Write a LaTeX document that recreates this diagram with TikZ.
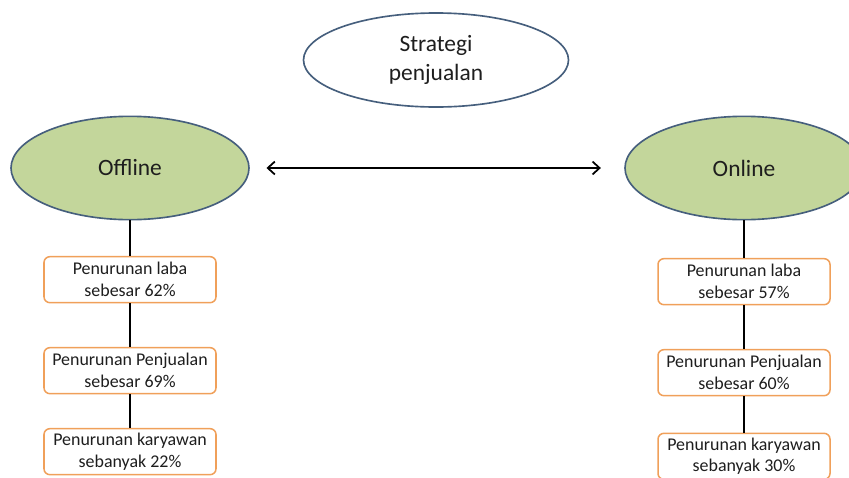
\documentclass[tikz,border=0pt]{standalone}
\usepackage{fontspec}
\setmainfont{Carlito}
\usepackage{xcolor}
\usepackage{tikz}
\usetikzlibrary{positioning,shapes.geometric,arrows.meta}
\definecolor{c_leaf}{RGB}{195,214,155}
\definecolor{c_rim}{RGB}{70,95,125}
\definecolor{c_orange}{RGB}{240,160,90}
\definecolor{c_ink}{RGB}{30,30,30}
\tikzset{c-ellipse/.style={ellipse, draw=c_rim, line width=1.4pt, minimum width=7.14cm, minimum height=3.1cm, text centered, text=c_ink, font=\fontsize{20}{24}\selectfont},
c-box/.style={rectangle, rounded corners=5pt, minimum width=5.16cm, minimum height=1.38cm, text centered, align=center, draw=c_orange, line width=1.3pt, fill=white, text=c_ink, font=\fontsize{15.3}{18.5}\selectfont},
link/.style={line width=1.4pt, black},
arrow/.style={line width=1.5pt, {Straight Barb[length=6pt,width=11pt]}-{Straight Barb[length=6pt,width=11pt]}}}

\begin{document}
\begin{tikzpicture}[node distance = 2.73cm]
\useasboundingbox (0,0) rectangle (25.47,-14.31);
\begin{scope}
\clip (0,0) rectangle (25.47,-14.31);
\node (n0) [c-ellipse, fill=white, minimum width=7.95cm, minimum height=2.82cm, align=center] at (13.08,-1.8) {Strategi\\penjualan};
\node (n1) [c-ellipse, fill=c_leaf] at (3.9,-5.04) {Offline};
\node (n2) [c-ellipse, fill=c_leaf] at (22.32,-5.04) {Online};
% offline
\node (n3) [c-box, below of=n1, yshift=-0.62cm] {Penurunan laba\\sebesar 62\%};
\node (n4) [c-box, below of=n3] {Penurunan Penjualan\\sebesar 69\%};
\node (n5) [c-box, below of=n4, yshift=0.3cm] {Penurunan karyawan\\sebanyak 22\%};
% online
\node (n6) [c-box, below of=n2, yshift=-0.68cm] {Penurunan laba\\sebesar 57\%};
\node (n7) [c-box, below of=n6] {Penurunan Penjualan\\sebesar 60\%};
\node (n8) [c-box, below of=n7, yshift=0.22cm] {Penurunan karyawan\\sebanyak 30\%};
\draw [arrow, shorten <=0.5cm, shorten >=0.7cm] (n1) -- (n2);
\draw [link] (n1) -- (n3);
\draw [link] (n3) -- (n4);
\draw [link] (n4) -- (n5);
\draw [link] (n2) -- (n6);
\draw [link] (n6) -- (n7);
\draw [link] (n7) -- (n8);
\end{scope}
\end{tikzpicture}
\end{document}
